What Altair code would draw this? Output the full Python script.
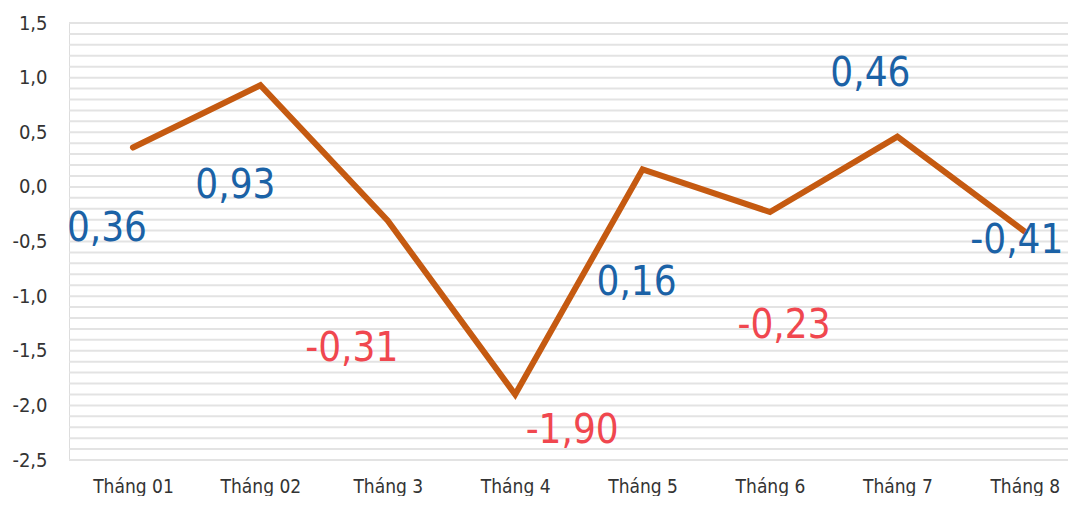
import json
import altair as alt
import pandas as pd

months = ["Tháng 01", "Tháng 02", "Tháng 3", "Tháng 4", "Tháng 5", "Tháng 6", "Tháng 7", "Tháng 8"]
values = [0.36, 0.93, -0.31, -1.90, 0.16, -0.23, 0.46, -0.41]
label_colors = ["#1b62a6", "#1b62a6", "#f0474f", "#f0474f", "#1b62a6", "#f0474f", "#1b62a6", "#1b62a6"]

# label offsets (pixels) from each point: styling only
label_dx = [-26, -25, -36, 57, -6, 14, -27, -8]
label_dy = [81, 101, 128, 37, 114, 114, -63, 9]

FONT = "DejaVu Sans Condensed"
LINE = "#c55a11"

df = pd.DataFrame({"idx": list(range(len(months))), "month": months, "value": values})
grid_df = pd.DataFrame({"g": [round(-2.5 + 0.1 * i, 1) for i in range(41)]})

label_array = json.dumps(months, ensure_ascii=False)

x_scale = alt.Scale(domain=[-0.502, 7.339], nice=False, zero=False)
y_scale = alt.Scale(domain=[-2.5, 1.5], nice=False, zero=False)
label_vals = [round(-2.5 + 0.5 * i, 1) for i in range(9)]

y_axis = alt.Axis(values=label_vals, grid=False, ticks=False, domain=False, title=None,
                  labelExpr="replace(replace(format(datum.value, '.1f'), '.', ','), '\u2212', '-')",
                  labelFont=FONT, labelFontSize=20, labelColor="#333333",
                  labelPadding=22)
x_axis = alt.Axis(values=list(range(len(months))), labelExpr=f"{label_array}[datum.value]",
                  grid=False, ticks=False, domain=False, title=None,
                  labelFont=FONT, labelFontSize=19, labelColor="#333333",
                  labelPadding=17)

grid = alt.Chart(grid_df).mark_rule(color="#e3e3e3", strokeWidth=2).encode(
    y=alt.Y("g:Q", scale=y_scale, axis=y_axis),
)

line = alt.Chart(df).mark_line(color=LINE, strokeWidth=6, strokeCap="round").encode(
    x=alt.X("idx:Q", scale=x_scale, axis=x_axis),
    y=alt.Y("value:Q", scale=y_scale, axis=y_axis),
)

texts = []
for i in range(len(months)):
    t = alt.Chart(df).transform_filter(alt.datum.idx == i).transform_calculate(
        lbl="replace(replace(format(datum.value, '.2f'), '.', ','), '\u2212', '-')"
    ).mark_text(
        font=FONT, fontSize=40, align="center", baseline="middle",
        dx=label_dx[i], dy=label_dy[i], color=label_colors[i],
    ).encode(
        x=alt.X("idx:Q", scale=x_scale),
        y=alt.Y("value:Q", scale=y_scale),
        text="lbl:N",
    )
    texts.append(t)

chart = alt.layer(grid, line, *texts).properties(
    width=999, height=437,
    autosize=alt.AutoSizeParams(type="none"),
    padding={"left": 61, "top": 15, "right": 0, "bottom": 36},
).configure_view(stroke=None).configure(background="white")

chart.save("out.html", embed_options={"renderer": "svg", "actions": False})
